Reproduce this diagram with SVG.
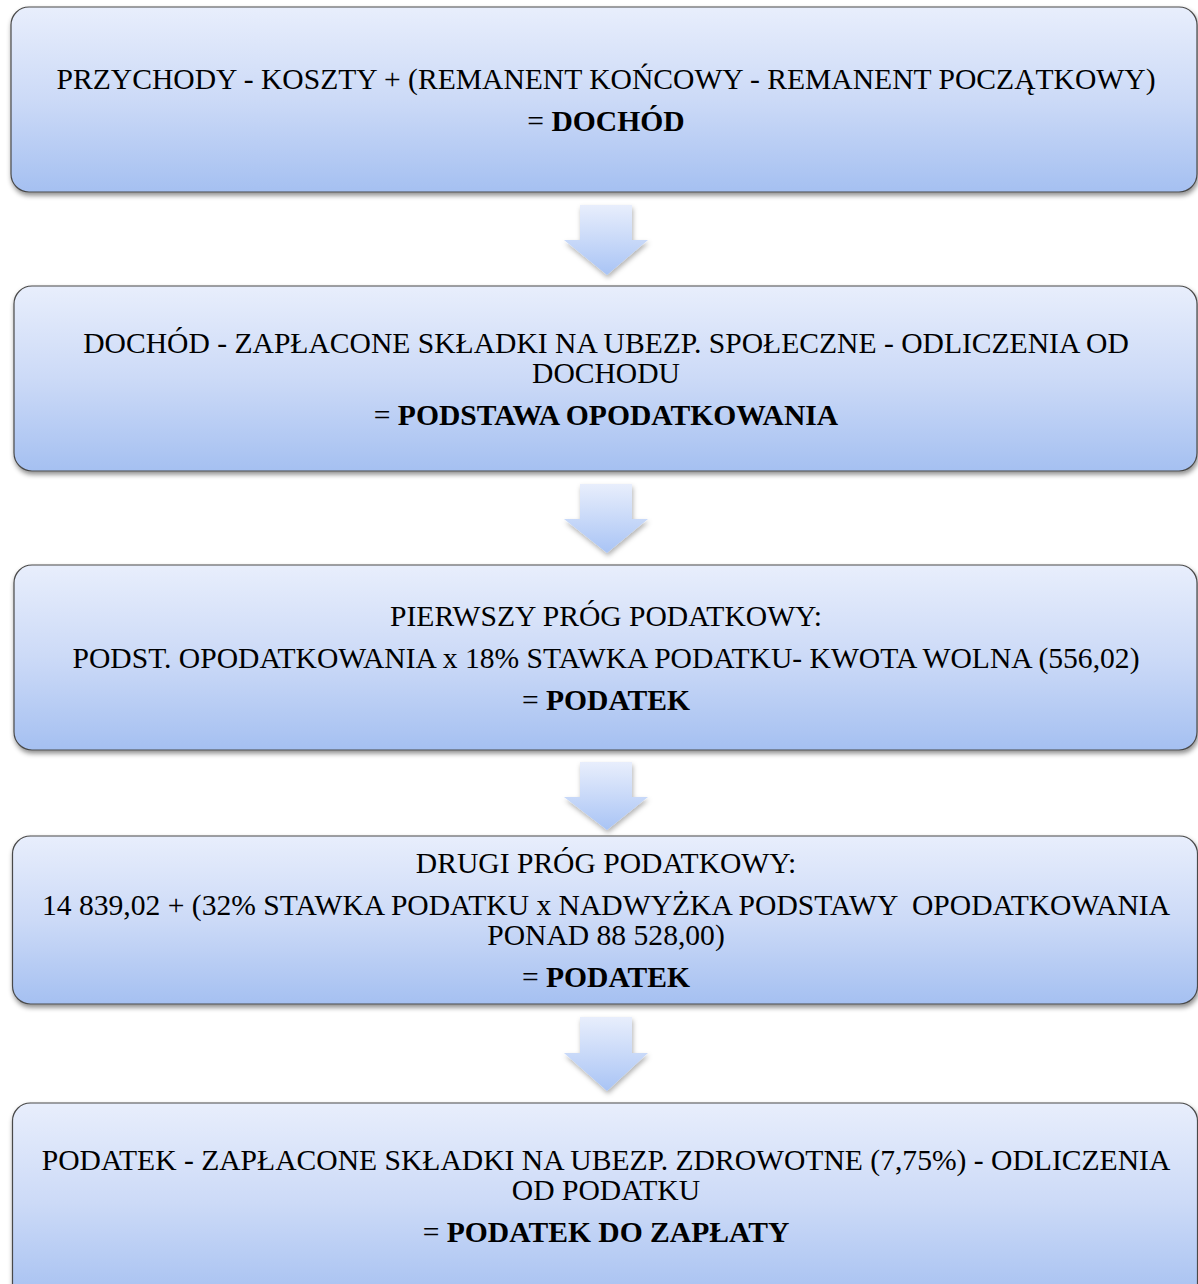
<svg xmlns="http://www.w3.org/2000/svg" width="1198" height="1284" viewBox="0 0 1198 1284">
<style>
.box{stroke:#4a4a4a;stroke-width:1.2;fill:url(#g);filter:url(#sh)}
.arr{fill:url(#ga);filter:url(#sha)}
text{font-family:"Liberation Serif","Times New Roman",serif;font-size:29.6px;fill:#000;text-anchor:middle;white-space:pre}
.b{font-weight:bold}
</style>
<defs>
<linearGradient id="g" x1="0" y1="0" x2="0" y2="1">
<stop offset="0" stop-color="#e8eefc"/>
<stop offset="0.5" stop-color="#ccdaf7"/>
<stop offset="1" stop-color="#a5c0f1"/>
</linearGradient>
<linearGradient id="ga" x1="0" y1="0" x2="0" y2="1">
<stop offset="0" stop-color="#e8eefc"/>
<stop offset="1" stop-color="#a9c4f5"/>
</linearGradient>
<filter id="sh" x="-5%" y="-10%" width="110%" height="125%">
<feDropShadow dx="1" dy="3" stdDeviation="2.5" flood-color="#000" flood-opacity="0.45"/>
</filter>
<filter id="sha" x="-20%" y="-20%" width="140%" height="140%">
<feDropShadow dx="1" dy="3" stdDeviation="2.5" flood-color="#000" flood-opacity="0.3"/>
</filter>
</defs>
<g id="connectors">
<path class="arr" d="M580,205 H632 V240 H648 L607,275 L564,240 H580 Z"/>
<path class="arr" d="M580,484 H632 V519 H648 L607,553 L564,519 H580 Z"/>
<path class="arr" d="M580,762 H632 V797 H648 L607,830 L564,797 H580 Z"/>
<path class="arr" d="M580,1017 H632 V1053 H648 L607,1091 L564,1053 H580 Z"/>
</g>
<g id="node1">
<rect class="box" x="11" y="7" width="1186" height="185" rx="18"/>
<text x="606" y="89">PRZYCHODY - KOSZTY + (REMANENT KOŃCOWY - REMANENT POCZĄTKOWY)</text>
<text x="606" y="131">= <tspan class="b">DOCHÓD</tspan></text>
</g>
<g id="node2">
<rect class="box" x="14" y="286" width="1183" height="185" rx="18"/>
<text x="606" y="353">DOCHÓD - ZAPŁACONE SKŁADKI NA UBEZP. SPOŁECZNE - ODLICZENIA OD</text>
<text x="606" y="383">DOCHODU</text>
<text x="606" y="425">= <tspan class="b">PODSTAWA OPODATKOWANIA</tspan></text>
</g>
<g id="node3">
<rect class="box" x="14" y="565" width="1183" height="185" rx="18"/>
<text x="606" y="626">PIERWSZY PRÓG PODATKOWY:</text>
<text x="606" y="668">PODST. OPODATKOWANIA x 18% STAWKA PODATKU- KWOTA WOLNA (556,02)</text>
<text x="606" y="710">= <tspan class="b">PODATEK</tspan></text>
</g>
<g id="node4">
<rect class="box" x="12.5" y="836" width="1185" height="168" rx="18"/>
<text x="606" y="873">DRUGI PRÓG PODATKOWY:</text>
<text x="606" y="915" xml:space="preserve">14 839,02 + (32% STAWKA PODATKU x NADWYŻKA PODSTAWY  OPODATKOWANIA</text>
<text x="606" y="945">PONAD 88 528,00)</text>
<text x="606" y="987">= <tspan class="b">PODATEK</tspan></text>
</g>
<g id="node5">
<rect class="box" x="12.5" y="1103" width="1185" height="200" rx="18"/>
<text x="606" y="1170">PODATEK - ZAPŁACONE SKŁADKI NA UBEZP. ZDROWOTNE (7,75%) - ODLICZENIA</text>
<text x="606" y="1200">OD PODATKU</text>
<text x="606" y="1242">= <tspan class="b">PODATEK DO ZAPŁATY</tspan></text>
</g>
</svg>
